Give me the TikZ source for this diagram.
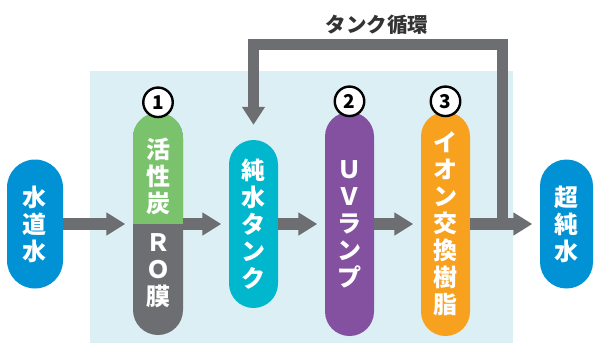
\documentclass[tikz,border=0pt]{standalone}
\usepackage{fontspec}
\newfontfamily\jpfont{Noto Sans CJK JP}
\usetikzlibrary{arrows.meta, calc}

\definecolor{bgblue}{RGB}{220,239,244}
\definecolor{waterblue}{RGB}{0,146,212}
\definecolor{carbongreen}{RGB}{122,194,108}
\definecolor{darkgray}{RGB}{109,110,113}
\definecolor{tankcyan}{RGB}{0,183,206}
\definecolor{uvpurple}{RGB}{132,80,160}
\definecolor{resinorange}{RGB}{247,161,30}
\definecolor{labelgray}{RGB}{51,51,51}

\begin{document}
\begin{tikzpicture}[
    x=1pt, y=-1pt,
    pill/.style={rectangle, minimum width=49pt, inner sep=0pt},
    pilltext/.style={text=white, align=center, font=\jpfont\bfseries\fontsize{24}{27}\selectfont},
    numcircle/.style={circle, draw=black, line width=2.4pt, fill=white, minimum size=29.5pt, inner sep=0pt,
        font=\jpfont\bfseries\fontsize{19}{19}\selectfont},
    flow/.style={draw=darkgray, line width=12pt, -{Triangle[width=22pt,length=19pt]}, shorten >=7.5pt},
    loop/.style={draw=darkgray, line width=11pt, line join=miter, -{Triangle[width=22pt,length=18pt]}, shorten >=15pt},
    looplabel/.style={text=labelgray, font=\jpfont\bfseries\fontsize{20.5}{20.5}\selectfont}
]
\useasboundingbox (0,0) rectangle (595,343);

% Light blue area behind the purification units
\fill[bgblue] (90,71) rectangle (513,343);

% Start and end pills
\node[pill, fill=waterblue, minimum width=56pt, minimum height=129pt, rounded corners=28pt,
    pilltext] (tap) at (35,224) {水\\道\\水};
\node[pill, fill=waterblue, minimum width=53pt, minimum height=129pt, rounded corners=26.5pt,
    pilltext] (pure) at (566.5,224) {超\\純\\水};

% Purification units
\node[pill, fill=darkgray, minimum width=50pt, minimum height=222pt, rounded corners=25pt] (ro) at (158,224) {};
\begin{scope}
    \clip[rounded corners=25pt] (ro.north west) rectangle (ro.south east);
    \fill[carbongreen] (ro.north west) rectangle (ro.east);
\end{scope}
\node[pilltext] (carbontext) at (158,176) {活\\性\\炭};
\node[pilltext] (rotext) at (158,271) {Ｒ\\Ｏ\\膜};

\node[pill, fill=tankcyan, minimum height=168pt, rounded corners=24.5pt, pilltext] (tank) at (253.5,224) {純\\水\\タ\\ン\\ク};
\node[pill, fill=uvpurple, minimum height=224pt, rounded corners=24.5pt, pilltext] (uv) at (349.5,224) {Ｕ\\Ｖ\\ラ\\ン\\プ};
\node[pill, fill=resinorange, minimum height=224pt, rounded corners=24.5pt, pilltext] (ion) at (445.5,224) {イ\\オ\\ン\\交\\換\\樹\\脂};

% Main flow arrows
\foreach \a/\b in {tap/ro, ro/tank, tank/uv, uv/ion, ion/pure} {
    \draw[flow] (\a) -- (\b);
}

% Tank circulation
\coordinate (join) at ($(ion.east)+(32,0)$);
\coordinate (looptop) at (0,44);
\draw[loop] (join) -- (join |- looptop) -| (tank.north);
\node[looplabel] (looptext) at (377,25) {タンク循環};

% Numbered steps
\foreach \n/\p in {1/ro, 2/uv, 3/ion} {
    \node[numcircle] (num\n) at ([yshift=10.5pt]\p.north) {\n};
}

\end{tikzpicture}
\end{document}
